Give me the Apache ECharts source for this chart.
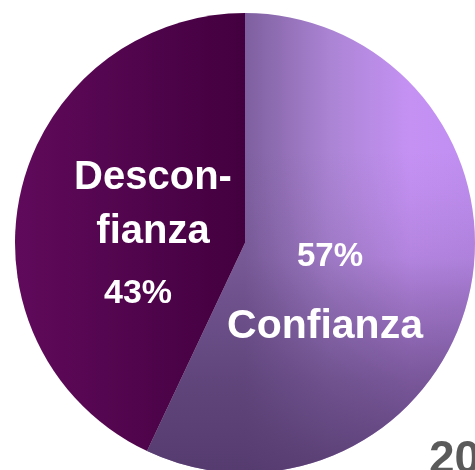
<!DOCTYPE html>
<html>
<head>
<meta charset="utf-8">
<script src="https://cdn.jsdelivr.net/npm/echarts@6/dist/echarts.min.js"></script>
<style>
  html, body { margin: 0; padding: 0; background: #ffffff; }
  #chart { width: 475px; height: 470px; }
</style>
</head>
<body>
<div id="chart"></div>
<script>
// Shares of respondents (percent)
const categories = ['Confianza', 'Desconfianza'];
const values = [57, 43];
// Display names (the long word is hyphenated across two lines)
const displayNames = ['Confianza', 'Descon-\nfianza'];
const cornerText = '20';

const FONT = '"Liberation Sans", Arial, Helvetica, sans-serif';
const CENTER = [245, 243];
const RADIUS = 230;

// Base fill for each slice (horizontal sheen)
const fills = [
  {
    type: 'linear', x: 245, y: 0, x2: 475, y2: 0, global: true,
    colorStops: [
      { offset: 0, color: '#7e5f9e' },
      { offset: 0.37, color: '#ab84d4' },
      { offset: 0.72, color: '#c592f4' },
      { offset: 1, color: '#bf8ef0' }
    ]
  },
  {
    type: 'linear', x: 15, y: 0, x2: 245, y2: 0, global: true,
    colorStops: [
      { offset: 0, color: '#600a5b' },
      { offset: 1, color: '#43003f' }
    ]
  }
];

// Vertical shading laid over the light slice only
const shades = [
  {
    type: 'linear', x: 0, y: 13, x2: 0, y2: 473, global: true,
    colorStops: [
      { offset: 0, color: 'rgba(80,55,105,0)' },
      { offset: 0.3, color: 'rgba(80,55,105,0)' },
      { offset: 0.41, color: 'rgba(80,55,105,0.06)' },
      { offset: 0.53, color: 'rgba(80,55,105,0.15)' },
      { offset: 0.62, color: 'rgba(80,55,105,0.33)' },
      { offset: 0.8, color: 'rgba(80,55,105,0.65)' },
      { offset: 1, color: 'rgba(80,55,105,0.9)' }
    ]
  },
  'rgba(0,0,0,0)'
];

// Label text blocks: name/percent order differs per slice
const labelStyles = [
  {
    formatter: function (p) { return '{p|' + p.value + '%}\n{n|' + displayNames[p.dataIndex] + '}'; },
    rich: {
      p: { fontSize: 33, fontWeight: 'bold', color: '#ffffff', fontFamily: FONT, lineHeight: 70, padding: [0, 0, 0, 10] },
      n: { fontSize: 41, fontWeight: 'bold', color: '#ffffff', fontFamily: FONT, lineHeight: 70 }
    }
  },
  {
    formatter: function (p) {
      const parts = displayNames[p.dataIndex].split('\n');
      return parts.map(function (s) { return '{n|' + s + '}'; }).join('\n') + '\n{p|' + p.value + '%}';
    },
    rich: {
      n: { fontSize: 40, fontWeight: 'bold', color: '#ffffff', fontFamily: FONT, lineHeight: 54 },
      p: { fontSize: 34, fontWeight: 'bold', color: '#ffffff', fontFamily: FONT, lineHeight: 70, padding: [0, 30, 0, 0] }
    }
  }
];
const labelCenters = [[325, 292], [153, 240]];

const chart = echarts.init(document.getElementById('chart'), null, { renderer: 'canvas' });

const pieBase = {
  type: 'pie',
  center: CENTER,
  radius: RADIUS,
  startAngle: 90,
  clockwise: true,
  avoidLabelOverlap: false,
  emphasis: { disabled: true },
  labelLine: { show: false }
};

chart.setOption({
  animation: false,
  backgroundColor: '#ffffff',
  series: [
    Object.assign({}, pieBase, {
      z: 1,
      itemStyle: { borderWidth: 0 },
      label: { show: false },
      data: categories.map(function (name, i) {
        return { name: name, value: values[i], itemStyle: { color: fills[i], borderWidth: 0 } };
      })
    }),
    Object.assign({}, pieBase, {
      z: 2,
      silent: true,
      itemStyle: { borderWidth: 0 },
      label: { show: true, position: 'inside' },
      labelLayout: function (params) {
        const c = labelCenters[params.dataIndex];
        return { x: c[0], y: c[1], align: 'center', verticalAlign: 'middle' };
      },
      data: categories.map(function (name, i) {
        return {
          name: name,
          value: values[i],
          itemStyle: { color: shades[i], borderWidth: 0 },
          label: Object.assign({ show: true, position: 'inside', align: 'center' }, labelStyles[i])
        };
      })
    })
  ],
  graphic: [{
    type: 'text',
    left: 429,
    top: 437,
    style: {
      text: cornerText,
      fill: '#5a5a5a',
      font: 'bold 46px ' + FONT
    }
  }]
});
</script>
</body>
</html>
